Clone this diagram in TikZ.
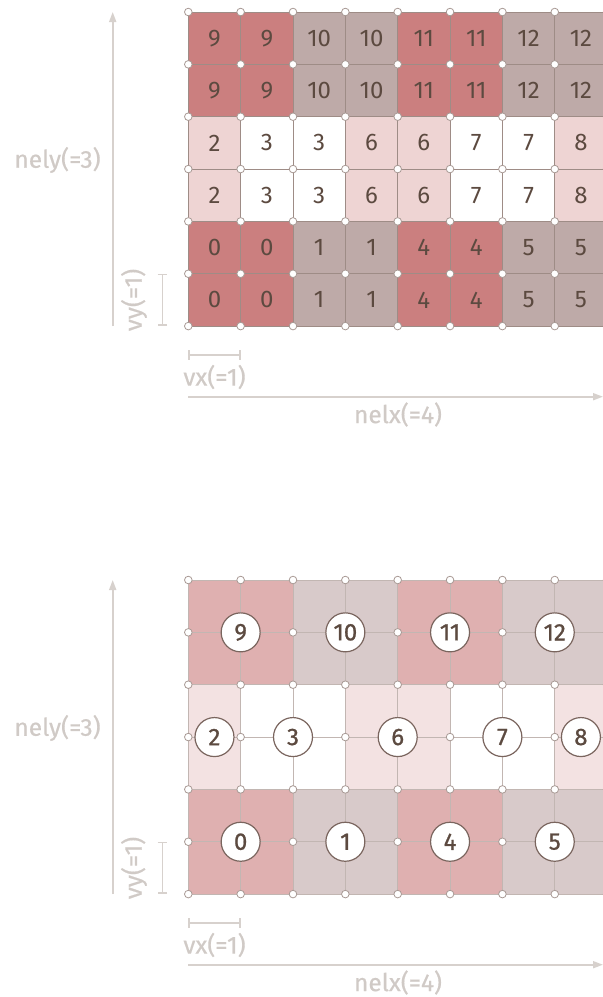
\documentclass[tikz,border=0pt]{standalone}
\usepackage{fontspec}
\setmainfont{Fira Sans}
\newfontfamily\circfont{Fira Sans}[FakeBold=0.8]
\newfontfamily\labfont{Fira Sans}[FakeBold=0.5]
\usetikzlibrary{arrows.meta}
\definecolor{tD}{HTML}{CB7F7F}
\definecolor{tM}{HTML}{BEAAA8}
\definecolor{tP}{HTML}{EED4D3}
\definecolor{tW}{HTML}{FFFFFF}
\definecolor{bD}{HTML}{DFB0B0}
\definecolor{bM}{HTML}{D8CACA}
\definecolor{bP}{HTML}{F3E2E2}
\definecolor{bW}{HTML}{FFFFFF}
\definecolor{tgridc}{HTML}{9E8C86}
\definecolor{bgridc}{HTML}{C2B6B2}
\definecolor{vtxc}{HTML}{A89994}
\definecolor{numc}{HTML}{5C4A40}
\definecolor{circc}{HTML}{7A655E}
\definecolor{axc}{HTML}{D7D1CD}
\definecolor{labc}{HTML}{D0CAC6}
\def\S{52.35}
\def\X{188.3}
\tikzset{
  tgrid/.style={draw=tgridc,line width=0.9pt},
  bgrid/.style={draw=bgridc,line width=0.9pt},
  vtx/.style={circle,inner sep=0pt,minimum size=7.6pt,fill=white,draw=vtxc,line width=0.8pt},
  numtxt/.style={text=numc,font=\fontsize{24}{24}\selectfont,inner sep=0pt},
  elem/.style={circle,inner sep=0pt,minimum size=39pt,fill=white,draw=circc,line width=1.2pt,text=numc,font=\circfont\fontsize{24}{24}\selectfont},
  axis/.style={draw=axc,line width=1.8pt},
  lab/.style={text=labc,font=\labfont\fontsize{24.5}{24.5}\selectfont,inner sep=0pt},
}
\newcommand\dimaxes[2]{%
  \coordinate (#2ya) at (112.7,{#1+326});
  \coordinate (#2yb) at (112.7,{#1+12});
  \draw[axis,-{Triangle[length=10pt,width=7pt]}] (#2ya) -- (#2yb);
  \node[lab] (#2nely) at (57.5,{#1+160}) {nely(=3)};
  \coordinate (#2vya) at (162.3,{#1+273.7});
  \coordinate (#2vyb) at (162.3,{#1+326});
  \draw[axis,line width=1.6pt,|-|] (#2vya) -- (#2vyb);
  \node[lab,rotate=90] (#2vy) at (134,{#1+300}) {vy(=1)};
  \coordinate (#2vxa) at (188.3,{#1+355});
  \coordinate (#2vxb) at (240.7,{#1+355});
  \draw[axis,line width=1.6pt,|-|] (#2vxa) -- (#2vxb);
  \node[lab] (#2vx) at (214.5,{#1+377}) {vx(=1)};
  \coordinate (#2xa) at (188.3,{#1+396.7});
  \coordinate (#2xb) at (603,{#1+396.7});
  \draw[axis,-{Triangle[length=10pt,width=7pt]}] (#2xa) -- (#2xb);
  \node[lab] (#2nelx) at (398,{#1+414.5}) {nelx(=4)};
}
\begin{document}
\begin{tikzpicture}[x=1pt,y=-1pt]
\useasboundingbox (0,0) rectangle (603,997);
\clip (0,0) rectangle (603,997);
% ---------- top diagram ----------
\def\Y{12}
\foreach \r/\L in {0/{9/D,9/D,10/M,10/M,11/D,11/D,12/M,12/M},
                   1/{9/D,9/D,10/M,10/M,11/D,11/D,12/M,12/M},
                   2/{2/P,3/W,3/W,6/P,6/P,7/W,7/W,8/P},
                   3/{2/P,3/W,3/W,6/P,6/P,7/W,7/W,8/P},
                   4/{0/D,0/D,1/M,1/M,4/D,4/D,5/M,5/M},
                   5/{0/D,0/D,1/M,1/M,4/D,4/D,5/M,5/M}}{
  \foreach \t/\k [count=\c from 0] in \L {
    \fill[t\k] ({\X+\c*\S},{\Y+\r*\S}) rectangle ({\X+(\c+1)*\S},{\Y+(\r+1)*\S});
    \node[numtxt] (t-\r-\c) at ({\X+(\c+0.5)*\S},{\Y+(\r+0.5)*\S}) {\t};
  }
}
\foreach \i in {0,...,8}
  \draw[tgrid] ({\X+\i*\S},\Y) -- ({\X+\i*\S},{\Y+6*\S});
\foreach \j in {0,...,6}
  \draw[tgrid] (\X,{\Y+\j*\S}) -- ({\X+8*\S},{\Y+\j*\S});
\foreach \i in {0,...,8}
  \foreach \j in {0,...,6}
    \node[vtx] (tv-\i-\j) at ({\X+\i*\S},{\Y+\j*\S}) {};
\dimaxes{0}{t}
% ---------- bottom diagram ----------
\def\Y{580}
\foreach \a/\b/\c/\d/\k/\t in {0/2/0/2/D/9,2/4/0/2/M/10,4/6/0/2/D/11,6/8/0/2/M/12,
    0/1/2/4/P/2,1/3/2/4/W/3,3/5/2/4/P/6,5/7/2/4/W/7,7/8/2/4/P/8,
    0/2/4/6/D/0,2/4/4/6/M/1,4/6/4/6/D/4,6/8/4/6/M/5}
  \fill[b\k] ({\X+\a*\S},{\Y+\c*\S}) rectangle ({\X+\b*\S},{\Y+\d*\S});
\foreach \i in {0,...,8}
  \draw[bgrid] ({\X+\i*\S},\Y) -- ({\X+\i*\S},{\Y+6*\S});
\foreach \j in {0,...,6}
  \draw[bgrid] (\X,{\Y+\j*\S}) -- ({\X+8*\S},{\Y+\j*\S});
\foreach \i in {0,...,8}
  \foreach \j in {0,...,6}
    \node[vtx] (bv-\i-\j) at ({\X+\i*\S},{\Y+\j*\S}) {};
\foreach \a/\b/\c/\d/\t in {0/2/0/2/9,2/4/0/2/10,4/6/0/2/11,6/8/0/2/12,
    0/1/2/4/2,1/3/2/4/3,3/5/2/4/6,5/7/2/4/7,7/8/2/4/8,
    0/2/4/6/0,2/4/4/6/1,4/6/4/6/4,6/8/4/6/5}
  \node[elem] (e\t) at ({\X+(\a+\b)/2*\S},{\Y+(\c+\d)/2*\S}) {\t};
\dimaxes{568}{b}
\end{tikzpicture}
\end{document}
